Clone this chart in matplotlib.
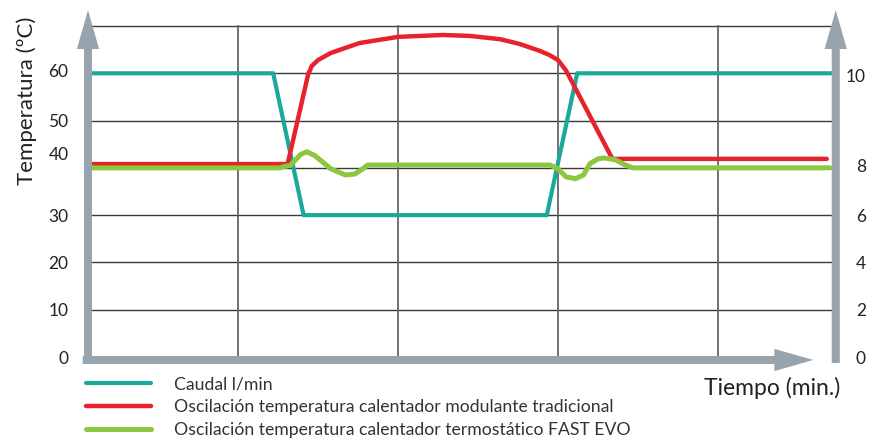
import numpy as np
import matplotlib.pyplot as plt

plt.rcParams['font.family'] = ['Lato', 'DejaVu Sans']

# tiempo en unidades de rejilla (líneas verticales en 1, 2, 3, 4)
t_caudal = [0.06, 1.22, 1.41, 2.93, 3.12, 4.71]
caudal = [12, 12, 6, 6, 12, 12]  # posición en el eje derecho

t_trad = [0.06, 1.31, 1.44, 1.45, 1.46, 1.50, 1.58, 1.76, 2.0, 2.14, 2.28,
          2.45, 2.64, 2.76, 2.89, 2.95, 3.0, 3.05, 3.34, 4.68]
temp_trad = [40.8, 40.8, 60.0, 60.6, 61.5, 62.8, 64.3, 66.4, 67.7, 67.9, 68.1,
             67.9, 67.2, 66.2, 64.7, 63.8, 62.8, 60.6, 41.9, 41.9]

t_fast = [0.06, 1.26, 1.33, 1.39, 1.43, 1.48, 1.58, 1.67, 1.73, 1.78, 1.81,
          2.95, 3.0, 3.05, 3.11, 3.16, 3.2, 3.25, 3.29, 3.36, 3.42, 3.47, 4.7]
temp_fast = [40.0, 40.0, 40.6, 42.8, 43.4, 42.6, 39.8, 38.5, 38.7, 39.8, 40.6,
             40.6, 39.8, 38.1, 37.7, 38.5, 40.9, 41.9, 42.1, 41.7, 40.6, 40.0, 40.0]

ticks_izq = [0, 10, 20, 30, 43, 50, 60.5]
labels_izq = ['0', '10', '20', '30', '40', '50', '60']
ticks_der = [0, 2, 4, 6, 8.1, 11.9]
labels_der = ['0', '2', '4', '6', '8', '10']
rejilla_t = [1, 2, 3, 4]
rejilla_h = [2, 4, 6, 8, 10, 12, 14]

c_teal = '#1aa99b'
c_rojo = '#e9212d'
c_verde = '#8dc63f'
c_gris = '#98a4ad'
c_texto = '#222222'

fig = plt.figure(figsize=(8.8, 4.41), dpi=100)
ax = fig.add_axes([88/880, 84/441, 750/880, 331/441])
ax2 = ax.twinx()
ax.set_zorder(2)
ax2.set_zorder(1)
ax.patch.set_visible(False)

ax.set_xlim(0.0625, 4.75)
ax.set_ylim(0, 70)
ax2.set_ylim(0, 14)

# rejilla
for y in rejilla_h:
    ax2.axhline(y, color='#3a3a3a', lw=1.0, zorder=0, clip_on=False)
for x in rejilla_t:
    ax2.plot([x, x], [0, 14], color='#5a5a5a', lw=1.2, zorder=0, clip_on=False)

l1, = ax2.plot(t_caudal, caudal, color=c_teal, lw=3.0, solid_capstyle='round',
               solid_joinstyle='round', zorder=3)
l2, = ax.plot(t_trad, temp_trad, color=c_rojo, lw=3.2, solid_capstyle='round',
              solid_joinstyle='round', zorder=3)
l3, = ax.plot(t_fast, temp_fast, color=c_verde, lw=3.6, solid_capstyle='round',
              solid_joinstyle='round', zorder=4)

for a in (ax, ax2):
    for s in a.spines.values():
        s.set_visible(False)
ax.set_xticks([])

ax.set_yticks(ticks_izq)
ax.set_yticklabels(labels_izq, fontsize=12.5, color=c_texto)
ax.tick_params(axis='y', length=0, pad=14)

ax2.set_yticks(ticks_der)
ax2.set_yticklabels(labels_der, fontsize=12.5, color=c_texto)
ax2.tick_params(axis='y', length=0, pad=20)
for lab in ax2.get_yticklabels():
    lab.set_horizontalalignment('right')

# ejes con flecha
estilo = 'simple,head_length=28,head_width=16,tail_width=5.8'
flechas = [((0.0, -0.018), (0.0, 1.048)),
           ((0.997, -0.018), (0.997, 1.048)),
           ((-0.007, -0.009), (0.967, -0.009))]
for ini, fin in flechas:
    ax.annotate('', xy=fin, xytext=ini, xycoords='axes fraction',
                arrowprops=dict(arrowstyle=estilo, color=c_gris, lw=0,
                                shrinkA=0, shrinkB=0, mutation_scale=1),
                annotation_clip=False, zorder=10)

ax.set_ylabel('Temperatura (ºC)', fontsize=16, color=c_texto)
ax.yaxis.set_label_coords(-0.068, 0.775)
ax.text(1.003, -0.095, 'Tiempo (min.)', transform=ax.transAxes, ha='right',
        va='center', fontsize=16.5, color=c_texto)

fig.legend([l1, l2, l3],
           ['Caudal l/min',
            'Oscilación temperatura calentador modulante tradicional',
            'Oscilación temperatura calentador termostático FAST EVO'],
           loc='upper left', bbox_to_anchor=(86/880, (441-376)/441),
           frameon=False, fontsize=12.7, handlelength=3.7, handletextpad=1.3,
           labelspacing=0.4, borderpad=0, borderaxespad=0, labelcolor='#333333')

fig.savefig('out.png', dpi=100)
